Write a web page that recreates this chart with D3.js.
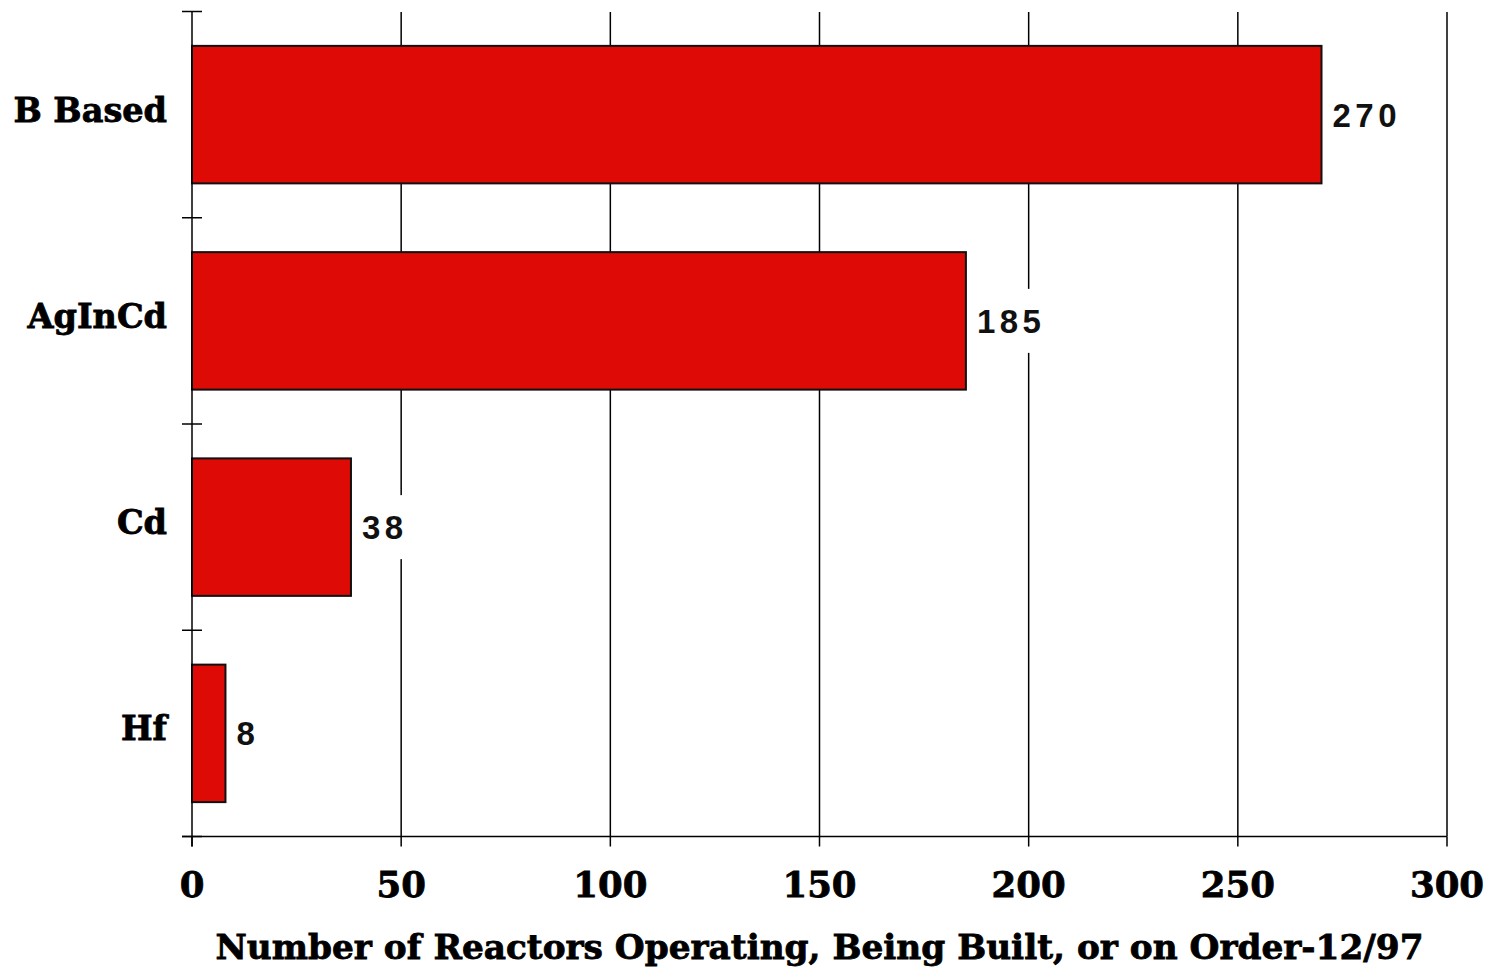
<!DOCTYPE html>
<html>
<head>
<meta charset="utf-8">
<script src="https://cdn.jsdelivr.net/npm/d3@7"></script>
<style>
  body { margin: 0; background: #fff; }
  .cat { font-family: "DejaVu Serif", serif; font-weight: bold; fill: #000; stroke: #000; stroke-width: 0.8px; }
  .val { font-family: "Liberation Sans", Arial, Helvetica, sans-serif; font-weight: bold; fill: #111; }
</style>
</head>
<body>
<div id="container"></div>
<script>
// data
var categories = ["B Based", "AgInCd", "Cd", "Hf"];
var values = [270, 185, 38, 8];
var xTicks = [0, 50, 100, 150, 200, 250, 300];
var xTitle = "Number of Reactors Operating, Being Built, or on Order-12/97";

var W = 1497, H = 972;
var margin = {top: 11.5, left: 192, right: 50, bottom: 135};
var width = 1447 - margin.left,
    height = 836.5 - margin.top;

var svg = d3.select("#container").append("svg")
  .attr("width", W).attr("height", H)
  .append("g")
    .attr("transform", "translate(" + margin.left + "," + margin.top + ")");

var x = d3.scaleLinear().domain([0, 300]).range([0, width]);
var y = d3.scaleBand().domain(categories).range([0, height])
  .paddingInner(1 / 3).paddingOuter(1 / 6);
var step = y.step();

// vertical grid lines
svg.selectAll(".grid")
  .data(xTicks.slice(1)).enter()
  .append("line")
    .attr("class", "grid")
    .attr("x1", function(d) { return x(d); })
    .attr("x2", function(d) { return x(d); })
    .attr("y1", 0.5).attr("y2", height)
    .style("stroke", "#000").style("stroke-width", 1.5);

// bars
svg.selectAll(".bar")
  .data(values).enter()
  .append("rect")
    .attr("class", "bar")
    .attr("x", x(0))
    .attr("y", function(d, i) { return y(categories[i]); })
    .attr("width", function(d) { return x(d) - x(0); })
    .attr("height", y.bandwidth())
    .style("fill", "#dd0a05")
    .style("stroke", "#111")
    .style("stroke-width", 2);

// value labels with a white box behind them
var lab = svg.selectAll(".lab")
  .data(values).enter()
  .append("g")
    .attr("class", "lab")
    .attr("transform", function(d, i) {
      return "translate(" + (x(d) + 11) + "," + (y(categories[i]) + y.bandwidth() / 2) + ")";
    });

lab.append("rect")
  .attr("x", -3).attr("y", -32)
  .attr("height", 64)
  .attr("width", function(d) { return String(d).length * 24 + 4; })
  .style("fill", "#fff");

lab.append("text")
  .attr("class", "val")
  .attr("y", 12)
  .style("font-size", "33px")
  .style("letter-spacing", "4.5px")
  .text(function(d) { return d; });

// y axis: line + ticks between categories
svg.append("line")
  .attr("x1", 0).attr("x2", 0).attr("y1", 0).attr("y2", height + 10)
  .style("stroke", "#000").style("stroke-width", 1.5);

svg.selectAll(".ytick")
  .data(d3.range(categories.length + 1)).enter()
  .append("line")
    .attr("x1", -10).attr("x2", 10)
    .attr("y1", function(i) { return i * step; })
    .attr("y2", function(i) { return i * step; })
    .style("stroke", "#000").style("stroke-width", 1.5);

svg.selectAll(".catlab")
  .data(categories).enter()
  .append("text")
    .attr("class", "cat")
    .attr("x", -25)
    .attr("y", function(d) { return y(d) + y.bandwidth() / 2 + 7; })
    .style("font-size", "33.5px")
    .style("text-anchor", "end")
    .text(function(d) { return d; });

// x axis
svg.append("line")
  .attr("x1", -10).attr("x2", width).attr("y1", height).attr("y2", height)
  .style("stroke", "#000").style("stroke-width", 1.5);

svg.selectAll(".xtick")
  .data(xTicks).enter()
  .append("line")
    .attr("x1", function(d) { return x(d); })
    .attr("x2", function(d) { return x(d); })
    .attr("y1", height).attr("y2", height + 10)
    .style("stroke", "#000").style("stroke-width", 1.5);

svg.selectAll(".xlab")
  .data(xTicks).enter()
  .append("text")
    .attr("class", "cat")
    .attr("x", function(d) { return x(d); })
    .attr("y", height + 60)
    .style("font-size", "35.5px")
    .style("text-anchor", "middle")
    .text(function(d) { return d; });

svg.append("text")
  .attr("class", "cat")
  .attr("x", width / 2)
  .attr("y", height + 122)
  .style("font-size", "34.3px")
  .style("text-anchor", "middle")
  .text(xTitle);
</script>
</body>
</html>
